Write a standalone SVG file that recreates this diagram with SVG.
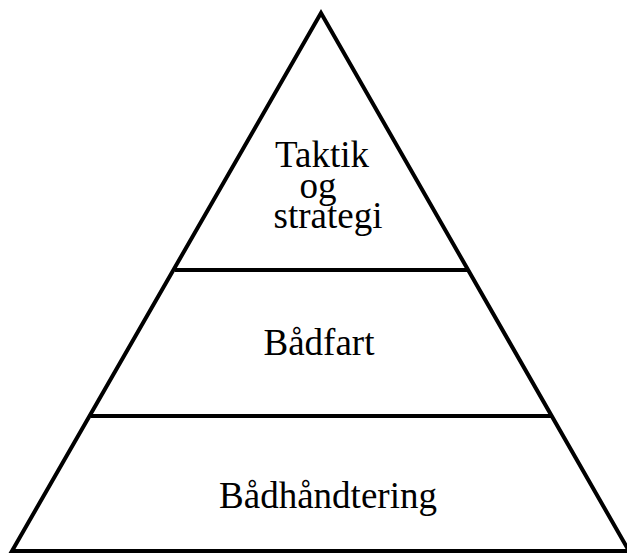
<svg xmlns="http://www.w3.org/2000/svg" width="627" height="553" viewBox="0 0 627 553">
<style>
.ln{stroke:#000;stroke-width:4;fill:none;stroke-linejoin:miter}
.t{font-family:"Liberation Serif","Times New Roman",serif;font-size:37px;fill:#000;text-anchor:middle}
</style>
<rect width="627" height="553" fill="#fff"/>
<g id="connectors">
<polygon class="ln" points="321,13 12,551 629,551"/>
<line class="ln" x1="175" y1="270" x2="467" y2="270"/>
<line class="ln" x1="91" y1="416" x2="551" y2="416"/>
</g>
<g id="top"><text class="t" x="322" y="167">Taktik</text><text class="t" x="318" y="198">og</text><text class="t" x="328" y="228">strategi</text></g>
<g id="middle"><text class="t" x="319" y="355">Bådfart</text></g>
<g id="bottom"><text class="t" x="328" y="508">Bådhåndtering</text></g>
</svg>
